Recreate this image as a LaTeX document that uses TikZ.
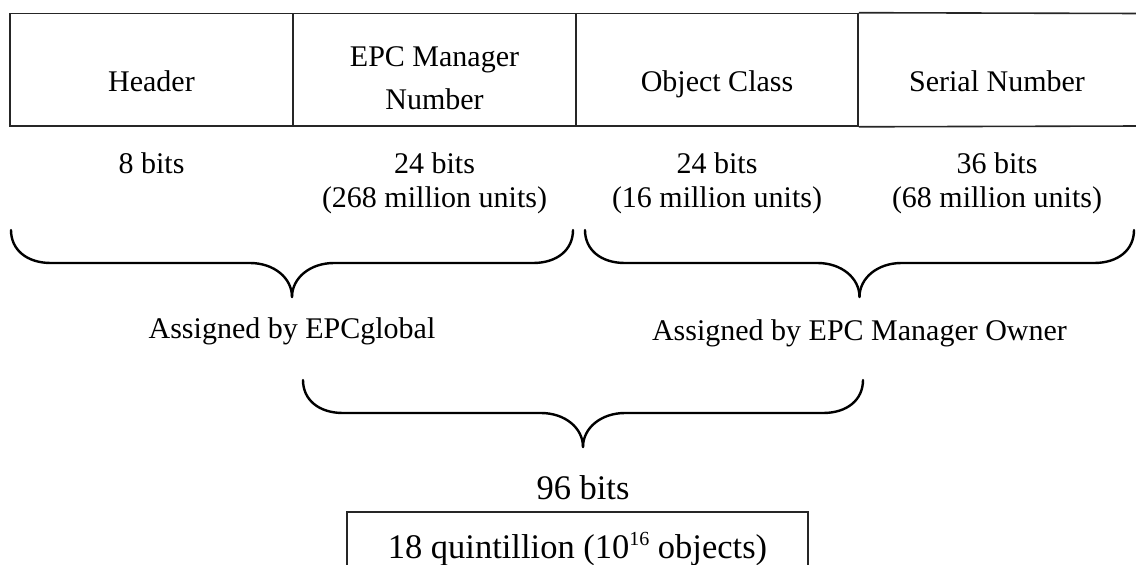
\documentclass[tikz,border=0pt]{standalone}
\usepackage{fontspec}
\setmainfont{Liberation Serif}
\usetikzlibrary{positioning}

\tikzset{
  cell/.style={draw=black!85,line width=1.6pt,minimum height=112.5pt,inner sep=0pt,align=center,
    text height=50pt,text depth=6pt,font=\fontsize{30}{34.5}\selectfont},
  bits/.style={inner sep=0pt,align=center,font=\fontsize{30}{34.5}\selectfont},
  big/.style={inner sep=0pt,font=\fontsize{34.5}{40}\selectfont},
  curly/.style={line width=2.4pt,line cap=round},
}

% brace from x=#1 to x=#2, top at y=#3, tip coordinate #4
\newcommand{\epcbrace}[4]{%
  \pgfmathsetmacro{\bmid}{(#1+#2)/2}
  \draw[curly] (#1,#3) .. controls (#1,#3+20) and (#1+16,#3+33) .. (#1+40,#3+33)
    -- (\bmid-42,#3+33) .. controls (\bmid-18,#3+33) and (\bmid,#3+48) .. (\bmid,#3+67);
  \draw[curly] (#2,#3) .. controls (#2,#3+20) and (#2-16,#3+33) .. (#2-40,#3+33)
    -- (\bmid+42,#3+33) .. controls (\bmid+18,#3+33) and (\bmid,#3+48) .. (\bmid,#3+67);
  \coordinate (#4) at (\bmid,#3+67);
}

\begin{document}
\begin{tikzpicture}[x=1pt,y=-1pt]
  \useasboundingbox (0,0) rectangle (1136,565);
  % fields
  \node[cell,minimum width=283pt] (hdr) at (151.5,69.75) {Header};
  \node[cell,minimum width=283pt,text height=86pt] (mgr) at (434.5,69.75) {EPC Manager\\[8.5pt]Number};
  \node[cell,minimum width=282pt] (cls) at (717,69.75) {Object Class};
  \node[cell,draw=none,minimum width=278pt] (ser) at (997,69.75) {Serial Number};
  \coordinate (ser-ne) at (1140,13.5);
  \coordinate (ser-se) at (1140,126);
  \draw[line width=1.6pt,draw=black!85] (cls.north east) -- (ser-ne);
  \draw[line width=1.6pt,draw=black!85] (cls.south east) -- (ser-se);
  % sizes
  \node[bits,anchor=north] (hdrbits) at (151.5,152) {8 bits};
  \node[bits,anchor=north] (mgrbits) at (434.5,152) {24 bits\\(268 million units)};
  \node[bits,anchor=north] (clsbits) at (717,152) {24 bits\\(16 million units)};
  \node[bits,anchor=north] (serbits) at (997,152) {36 bits\\(68 million units)};
  % braces
  \epcbrace{11}{573}{230}{tipglobal}
  \epcbrace{585}{1134}{230}{tipowner}
  \node[bits,anchor=north,below=20pt of tipglobal] (global) {Assigned by EPCglobal};
  \node[bits,anchor=north,below=22pt of tipowner] (owner) {Assigned by EPC Manager Owner};
  \epcbrace{303}{863}{380}{tiptotal}
  \node[big,below=28pt of tiptotal] (total) {96 bits};
  \node[big,draw=black!85,line width=1.6pt,minimum width=461pt,minimum height=74pt,anchor=north] (objects) at (577.5,511)
    {18 quintillion (10\raisebox{13pt}{\fontsize{20}{20}\selectfont 16} objects)};
\end{tikzpicture}
\end{document}
